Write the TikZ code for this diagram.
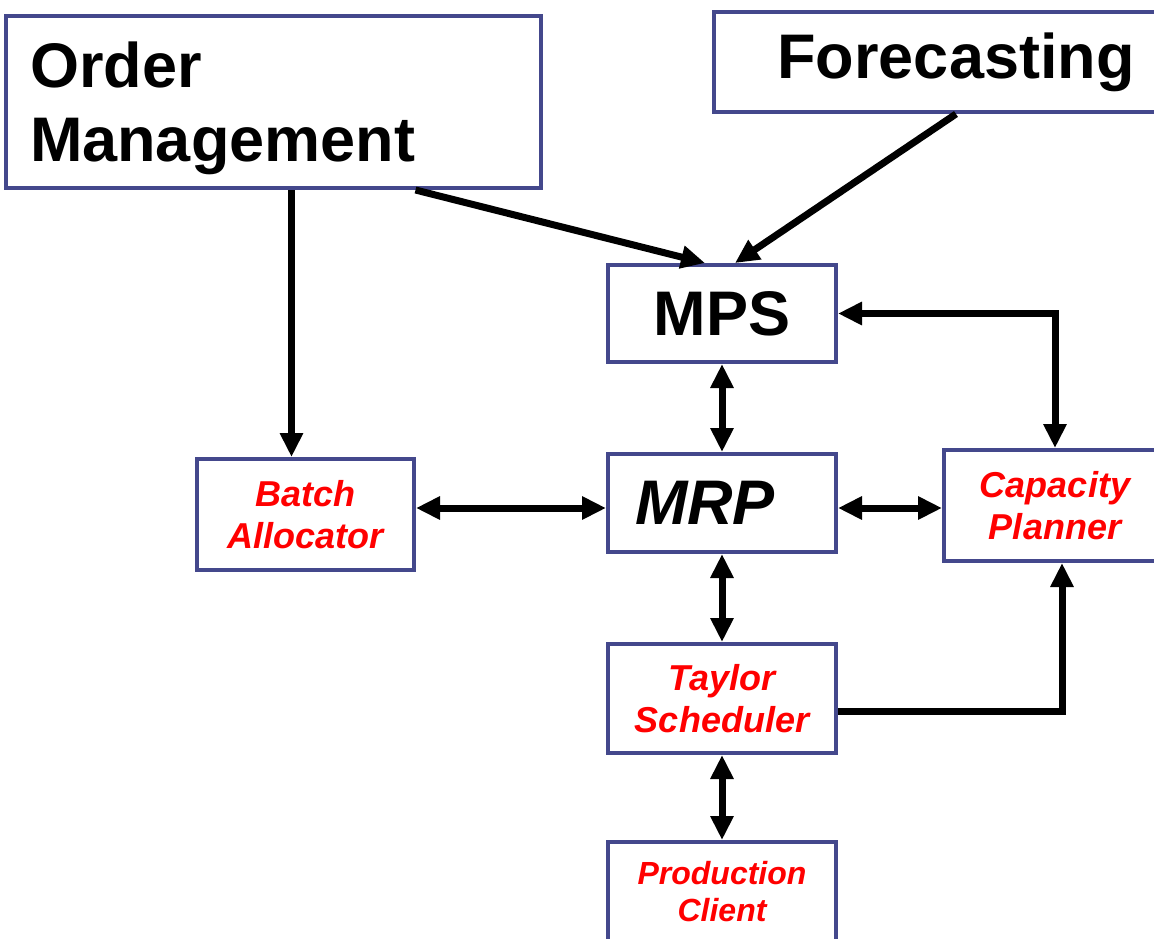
\documentclass[tikz,border=0pt]{standalone}
\usepackage{fontspec}
\setmainfont{Liberation Sans}
\usetikzlibrary{arrows.meta}

\definecolor{boxblue}{RGB}{68,72,140}

\tikzset{
  box/.style={draw=boxblue, line width=4pt, rectangle, inner sep=0pt, fill=white},
  bigtext/.style={font=\fontsize{63}{74}\selectfont\bfseries},
  redtext/.style={font=\fontsize{36}{42}\selectfont\bfseries\itshape, text=red, align=center},
  flow/.style={line width=7pt, -{Triangle[length=24pt,width=22pt]}},
  flowboth/.style={line width=7pt, {Triangle[length=24pt,width=22pt]}-{Triangle[length=24pt,width=22pt]}}
}

\begin{document}
\begin{tikzpicture}[x=1pt, y=-1pt]
    \useasboundingbox (0, 0) rectangle (1154, 938);

    % top boxes
    \node [box, bigtext, minimum width=535pt, minimum height=172pt, text width=487pt, align=left, inner xsep=24pt, text depth=74pt] (om) at (273.5, 102) {Order\\Management};
    \node [box, bigtext, minimum width=484pt, minimum height=100pt] (fc) at (956, 62) {Forecasting};

    % planning boxes
    \node [box, bigtext, minimum width=228pt, minimum height=97pt] (mps) at (722, 313.5) {MPS};
    \node [box, bigtext, minimum width=228pt, minimum height=98pt, text width=174pt, align=left, inner xsep=27pt] (mrp) at (722, 503) {\itshape MRP};
    \node [box, redtext, minimum width=217pt, minimum height=111pt] (ba) at (305.5, 514.5) {Batch\\Allocator};
    \node [box, redtext, minimum width=222pt, minimum height=111pt] (cp) at (1055, 505.5) {Capacity\\Planner};
    \node [box, redtext, minimum width=228pt, minimum height=109pt] (ts) at (722, 698.5) {Taylor\\Scheduler};
    \node [box, redtext, font=\fontsize{32}{37}\selectfont\bfseries\itshape, minimum width=228pt, minimum height=100pt] (pc) at (722, 892) {Production\\Client};

    % helper points
    \coordinate (batop) at ([xshift=-14pt]ba.north);
    \coordinate (mrpw) at ([yshift=-5pt]mrp.west);
    \coordinate (mrpe) at ([yshift=-5pt]mrp.east);
    \coordinate (tse) at ([yshift=-13pt]ts.east);
    \coordinate (cpbot) at ([xshift=7pt]cp.south);

    % inputs to MPS
    \draw [flow] ([xshift=142pt]om.south) -- ([xshift=-17pt]mps.north);
    \draw [flow] (fc.south) -- ([xshift=13pt]mps.north);
    \draw [flow] (om.south -| batop) -- (batop);

    % links
    \draw [flowboth] (mps.east) -| (cp.north);
    \draw [flowboth] (mps.south) -- (mrp.north);
    \draw [flowboth] (mrpw -| ba.east) -- (mrpw);
    \draw [flowboth] (mrpe) -- (mrpe -| cp.west);
    \draw [flowboth] (mrp.south) -- (ts.north);
    \draw [flowboth] (ts.south) -- (pc.north);
    \draw [flow] (tse) -| (cpbot);
\end{tikzpicture}
\end{document}
